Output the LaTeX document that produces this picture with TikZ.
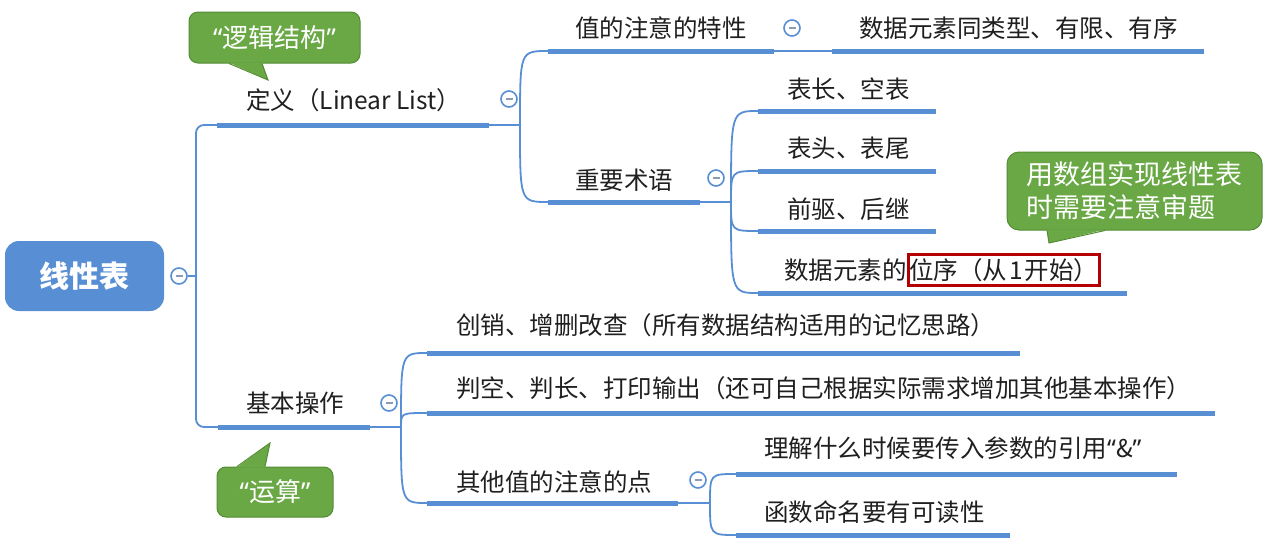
\documentclass[tikz,border=0pt]{standalone}
\usepackage{fontspec}
\setmainfont{Noto Sans CJK SC}
\newfontfamily\latinq{Noto Sans}
\usetikzlibrary{positioning}

\definecolor{mapblue}{RGB}{88,142,212}
\definecolor{notegreen}{RGB}{106,168,69}
\definecolor{noteedge}{RGB}{84,140,52}
\definecolor{markred}{RGB}{180,0,0}
\definecolor{minusgrey}{RGB}{140,155,180}

\newcommand{\openq}{{\latinq “}}
\newcommand{\closeq}{{\latinq ”}}

\tikzset{
  topic/.style={anchor=west, inner sep=0pt, text=black!88, font=\fontsize{24.5}{29}\selectfont},
  bar/.style={line width=5pt, mapblue},
  link/.style={line width=1.8pt, mapblue},
  fold/.style={circle, draw=mapblue, fill=white, line width=1.6pt, minimum size=16pt, inner sep=0pt,
    path picture={\draw[minusgrey, line width=1.3pt]
      ([xshift=-3.5pt]path picture bounding box.center) -- ([xshift=3.5pt]path picture bounding box.center);}},
  note/.style={fill=notegreen, draw=noteedge, line width=1pt, rounded corners=9pt, text=white, align=left},
  root/.style={fill=mapblue, rounded corners=14pt, text=white, minimum width=159pt, minimum height=70pt,
    font=\fontsize{30}{36}\selectfont\bfseries}
}

\begin{document}
\begin{tikzpicture}[x=1pt,y=-1pt]
  \useasboundingbox (0,0) rectangle (1267,546);

  % central topic
  \node[root] (root) at (84.5,276) {线性表};
  \node[fold] (root-fold) at (179,276) {};
  \coordinate (root-f) at (196,276);

  % main branches
  \node[topic] (def) at (246,100) {定义（Linear List）};
  \node[fold] (def-fold) at (509,99) {};
  \coordinate (def-l) at (217,125);
  \coordinate (def-r) at (489,125);
  \coordinate (def-f) at (520,125);

  \node[topic] (ops) at (246,403) {基本操作};
  \node[fold] (ops-fold) at (389,403) {};
  \coordinate (ops-l) at (218,427);
  \coordinate (ops-r) at (370,427);
  \coordinate (ops-f) at (401,427);

  \draw[link] (root-fold) -- (root-f);
  \draw[link, rounded corners=8pt] (def-l) -| (root-f) |- (ops-l);
  \draw[bar] (def-l) -- (def-r);
  \draw[link] (def-r) -- (def-f);
  \draw[bar] (ops-l) -- (ops-r);
  \draw[link] (ops-r) -- (ops-f);

  % definition
  \node[topic] (feat) at (575,28) {值的注意的特性};
  \node[fold] (feat-fold) at (792,28) {};
  \coordinate (feat-l) at (548,51);
  \coordinate (feat-r) at (774,51);
  \node[topic] (same) at (859,28) {数据元素同类型、有限、有序};
  \coordinate (same-l) at (832,51);
  \coordinate (same-r) at (1204,51);

  \node[topic] (term) at (575,180) {重要术语};
  \node[fold] (term-fold) at (716,178) {};
  \coordinate (term-l) at (548,202);
  \coordinate (term-r) at (700,202);
  \coordinate (term-f) at (731,202);

  \draw[link] (def-f) .. controls (def-f |- feat-l) .. (feat-l);
  \draw[link] (def-f) .. controls (def-f |- term-l) .. (term-l);
  \draw[bar] (feat-l) -- (feat-r);
  \draw[link] (feat-r) -- (same-l);
  \draw[bar] (same-l) -- (same-r);
  \draw[bar] (term-l) -- (term-r);
  \draw[link] (term-r) -- (term-f);

  % terms
  \node[topic] (len) at (787,89) {表长、空表};
  \coordinate (len-l) at (758,111);
  \coordinate (len-r) at (936,111);
  \node[topic] (ends) at (787,148) {表头、表尾};
  \coordinate (ends-l) at (758,171);
  \coordinate (ends-r) at (936,171);
  \node[topic] (pred) at (787,209) {前驱、后继};
  \coordinate (pred-l) at (758,231);
  \coordinate (pred-r) at (936,231);
  \node[topic] (ord) at (784,270) {数据元素的};
  \node[topic, right=0pt of ord, draw=markred, line width=3pt, inner xsep=1pt, inner ysep=3.5pt] (ord-mark) {位序（从\kern2pt 1\kern2pt 开始）};
  \coordinate (ord-l) at (758,293);
  \coordinate (ord-r) at (1127,293);

  \foreach \t in {len,ends,pred,ord} {
    \draw[link] (term-f) .. controls (term-f |- \t-l) .. (\t-l);
    \draw[bar] (\t-l) -- (\t-r);
  }

  % operations
  \node[topic] (crud) at (456,325) {创销、增删改查（所有数据结构适用的记忆思路）};
  \coordinate (crud-l) at (427,353);
  \coordinate (crud-r) at (1020,353);
  \node[topic] (empty) at (456,388) {判空、判长、打印输出（还可自己根据实际需求增加其他基本操作）};
  \coordinate (empty-l) at (427,413);
  \coordinate (empty-r) at (1215,413);
  \node[topic] (other) at (456,482) {其他值的注意的点};
  \node[fold] (other-fold) at (698,480) {};
  \coordinate (other-l) at (427,503);
  \coordinate (other-r) at (678,503);
  \coordinate (other-f) at (710,503);

  \foreach \t in {crud,empty,other} {
    \draw[link] (ops-f) .. controls (ops-f |- \t-l) .. (\t-l);
    \draw[bar] (\t-l) -- (\t-r);
  }
  \draw[link] (other-r) -- (other-f);

  \node[topic] (ref) at (764,448) {理解什么时候要传入参数的引用\openq\&\closeq};
  \coordinate (ref-l) at (736,474);
  \coordinate (ref-r) at (1177,474);
  \node[topic] (name) at (764,512) {函数命名要有可读性};
  \coordinate (name-l) at (736,535);
  \coordinate (name-r) at (1010,535);

  \foreach \t in {ref,name} {
    \draw[link] (other-f) .. controls (other-f |- \t-l) .. (\t-l);
    \draw[bar] (\t-l) -- (\t-r);
  }

  % callouts
  \node[note, minimum width=171pt, minimum height=51pt, font=\fontsize{26}{30}\selectfont] (logic) at (274.5,37.5) {\openq 逻辑结构\closeq};
  \coordinate (logic-tip) at (268,80);
  \fill[notegreen] ([xshift=-45.5pt,yshift=1pt]logic.south) -- (logic-tip) -- ([xshift=-12.5pt,yshift=1pt]logic.south) -- cycle;
  \draw[noteedge, line width=1pt] ([xshift=-45.5pt]logic.south) -- (logic-tip) -- ([xshift=-12.5pt]logic.south);

  \node[note, minimum width=116pt, minimum height=50pt, font=\fontsize{26}{30}\selectfont] (calc) at (275,492) {\openq 运算\closeq};
  \coordinate (calc-tip) at (270,443);
  \fill[notegreen] ([xshift=-38pt,yshift=-1pt]calc.north) -- (calc-tip) -- ([xshift=-10pt,yshift=-1pt]calc.north) -- cycle;
  \draw[noteedge, line width=1pt] ([xshift=-38pt]calc.north) -- (calc-tip) -- ([xshift=-10pt]calc.north);

  \node[note, rounded corners=12pt, minimum width=255pt, minimum height=78pt, font=\fontsize{27}{33}\selectfont] (array) at (1134.5,191) {用数组实现线性表\\时需要注意审题};
  \coordinate (array-tip) at (1049,243);
  \fill[notegreen] ([xshift=-87.5pt,yshift=1pt]array.south) -- (array-tip) -- ([xshift=-29.5pt,yshift=1pt]array.south) -- cycle;
  \draw[noteedge, line width=1pt] ([xshift=-87.5pt]array.south) -- (array-tip) -- ([xshift=-29.5pt]array.south);
\end{tikzpicture}
\end{document}
